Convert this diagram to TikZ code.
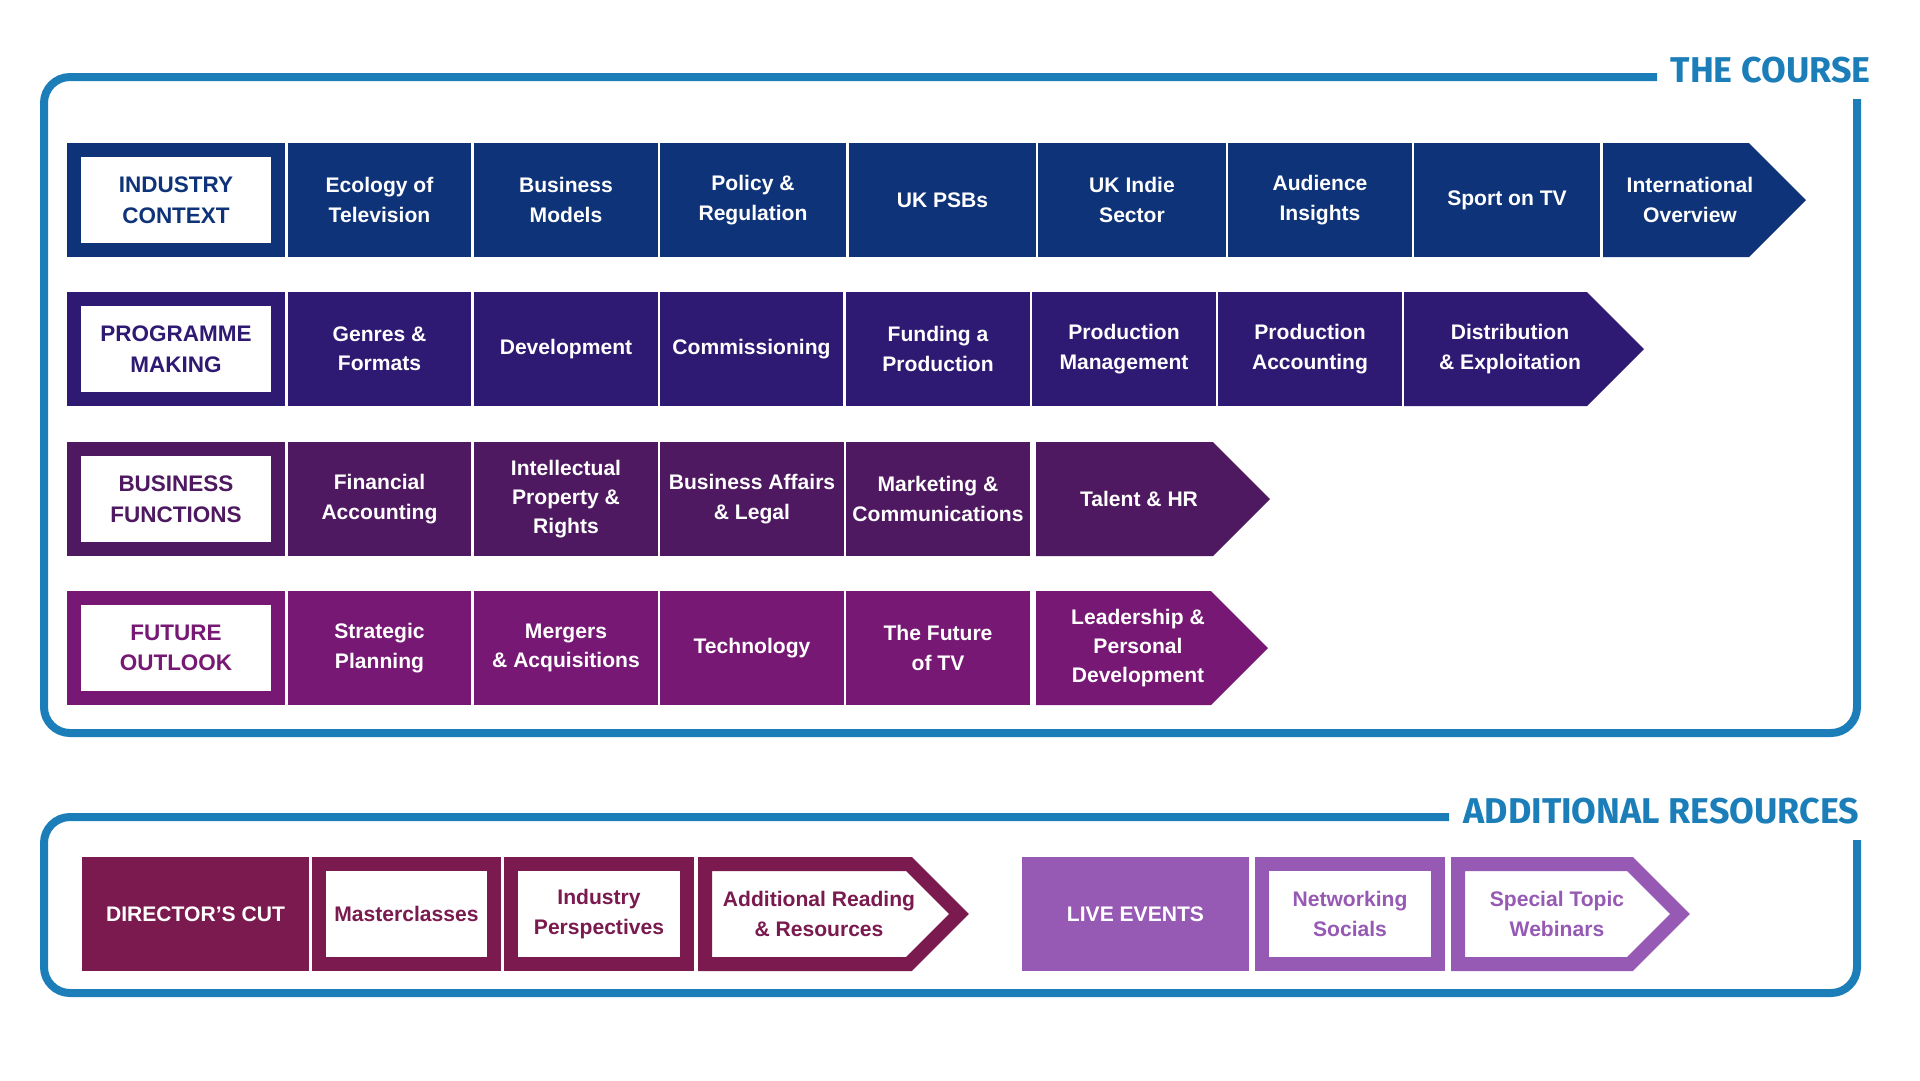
\documentclass[tikz,border=0pt]{standalone}
\usepackage{fontspec}
\setmainfont{Liberation Sans}
\newfontfamily\titlefont{Fira Sans}
\definecolor{framecol}{HTML}{1C7EB8}
\definecolor{ctxcol}{HTML}{0F3379}
\definecolor{progcol}{HTML}{2E1973}
\definecolor{funccol}{HTML}{4E1960}
\definecolor{futcol}{HTML}{771974}
\definecolor{dircol}{HTML}{7A1A4E}
\definecolor{livecol}{HTML}{9659B4}

\begin{document}
\begin{tikzpicture}[
    x=0.1mm, y=-0.1mm,
    cell/.style={
        rectangle, inner sep=0pt, outer sep=0pt, minimum height=11.4mm,
        align=center, text=white, font=\bfseries\fontsize{6}{8.3}\selectfont,
    },
    head/.style={
        rectangle, fill=white, line width=1.4mm, inner sep=0pt, outer sep=0pt,
        minimum width=20.4mm, minimum height=10mm,
        align=center, font=\bfseries\fontsize{6.4}{8.7}\selectfont,
    },
    openbox/.style={
        rectangle, fill=white, line width=1.4mm, inner sep=0pt, outer sep=0pt,
        minimum height=10mm,
        align=center, font=\bfseries\fontsize{6}{8.3}\selectfont,
    },
    lbl/.style={inner sep=0pt, align=center, font=\bfseries\fontsize{6}{8.3}\selectfont},
    frame/.style={draw=framecol, line width=0.8mm, rounded corners=2.6mm},
    title/.style={inner sep=0pt, text=framecol, font=\titlefont\bfseries\fontsize{10.2}{12}\selectfont},
]
\useasboundingbox (0,0) rectangle (1920,1080);

% === Frames and titles ===
\draw[frame] (1657,77) -- (44,77) -- (44,733) -- (1857,733) -- (1857,99);
\node[title, anchor=base west] (course) at (1670,82) {THE COURSE};

\draw[frame] (1449,817) -- (44,817) -- (44,993) -- (1857,993) -- (1857,840);
\node[title, anchor=base west] (extra) at (1463,823) {ADDITIONAL RESOURCES};

% === Row 1: industry context ===
\node[head, draw=ctxcol, text=ctxcol] (ctx) at (176,200) {INDUSTRY\\CONTEXT};
\node[cell, fill=ctxcol, minimum width=18.3mm] (ctx1) at (379.5,200) {Ecology of\\Television};
\node[cell, fill=ctxcol, minimum width=18.4mm] (ctx2) at (566,200) {Business\\Models};
\node[cell, fill=ctxcol, minimum width=18.6mm] (ctx3) at (753,200) {Policy \&\\Regulation};
\node[cell, fill=ctxcol, minimum width=18.7mm] (ctx4) at (942.5,200) {UK PSBs};
\node[cell, fill=ctxcol, minimum width=18.8mm] (ctx5) at (1132,200) {UK Indie\\Sector};
\node[cell, fill=ctxcol, minimum width=18.4mm] (ctx6) at (1320,200) {Audience\\Insights};
\node[cell, fill=ctxcol, minimum width=18.6mm] (ctx7) at (1507,200) {Sport on TV};
\fill[ctxcol] (1603,143) -- (1749,143) -- (1806,200) -- (1749,257) -- (1603,257) -- cycle;
\node[lbl, text=white] (ctx8) at (1690,200) {International\\Overview};

% === Row 2: programme making ===
\node[head, draw=progcol, text=progcol] (prog) at (176,349) {PROGRAMME\\MAKING};
\node[cell, fill=progcol, minimum width=18.3mm] (prog1) at (379.5,349) {Genres \&\\Formats};
\node[cell, fill=progcol, minimum width=18.4mm] (prog2) at (566,349) {Development};
\node[cell, fill=progcol, minimum width=18.3mm] (prog3) at (751.5,349) {Commissioning};
\node[cell, fill=progcol, minimum width=18.4mm] (prog4) at (938,349) {Funding a\\Production};
\node[cell, fill=progcol, minimum width=18.4mm] (prog5) at (1124,349) {Production\\Management};
\node[cell, fill=progcol, minimum width=18.4mm] (prog6) at (1310,349) {Production\\Accounting};
\fill[progcol] (1404,292) -- (1587,292) -- (1644,349) -- (1587,406) -- (1404,406) -- cycle;
\node[lbl, text=white] (prog7) at (1510,349) {Distribution\\\& Exploitation};

% === Row 3: business functions ===
\node[head, draw=funccol, text=funccol] (func) at (176,499) {BUSINESS\\FUNCTIONS};
\node[cell, fill=funccol, minimum width=18.3mm] (func1) at (379.5,499) {Financial\\Accounting};
\node[cell, fill=funccol, minimum width=18.4mm] (func2) at (566,499) {Intellectual\\Property \&\\Rights};
\node[cell, fill=funccol, minimum width=18.4mm] (func3) at (752,499) {Business Affairs\\\& Legal};
\node[cell, fill=funccol, minimum width=18.4mm] (func4) at (938,499) {Marketing \&\\Communications};
\fill[funccol] (1036,442) -- (1213,442) -- (1270,499) -- (1213,556) -- (1036,556) -- cycle;
\node[lbl, text=white] (func5) at (1139,499) {Talent \& HR};

% === Row 4: future outlook ===
\node[head, draw=futcol, text=futcol] (fut) at (176,648) {FUTURE\\OUTLOOK};
\node[cell, fill=futcol, minimum width=18.3mm] (fut1) at (379.5,648) {Strategic\\Planning};
\node[cell, fill=futcol, minimum width=18.4mm] (fut2) at (566,648) {Mergers\\\& Acquisitions};
\node[cell, fill=futcol, minimum width=18.4mm] (fut3) at (752,648) {Technology};
\node[cell, fill=futcol, minimum width=18.4mm] (fut4) at (938,648) {The Future\\of TV};
\fill[futcol] (1036,591) -- (1211,591) -- (1268,648) -- (1211,705) -- (1036,705) -- cycle;
\node[lbl, text=white] (fut5) at (1138,648) {Leadership \&\\Personal\\Development};

% === Additional resources ===
\node[cell, fill=dircol, minimum width=22.7mm] (dircut) at (195.5,914) {DIRECTOR’S CUT};
\node[openbox, draw=dircol, text=dircol, minimum width=17.5mm] (master) at (406.5,914) {Masterclasses};
\node[openbox, draw=dircol, text=dircol, minimum width=17.6mm] (persp) at (599,914) {Industry\\Perspectives};
\draw[dircol, fill=white, line width=1.4mm]
    (705,864) -- (909,864) -- (959,914) -- (909,964) -- (705,964) -- cycle;
\node[lbl, text=dircol] (reading) at (819,914) {Additional Reading\\\& Resources};

\node[cell, fill=livecol, minimum width=22.7mm] (live) at (1135.5,914) {LIVE EVENTS};
\node[openbox, draw=livecol, text=livecol, minimum width=17.6mm] (social) at (1350,914) {Networking\\Socials};
\draw[livecol, fill=white, line width=1.4mm]
    (1458,864) -- (1630,864) -- (1680,914) -- (1630,964) -- (1458,964) -- cycle;
\node[lbl, text=livecol] (webinar) at (1557,914) {Special Topic\\Webinars};

\end{tikzpicture}
\end{document}
